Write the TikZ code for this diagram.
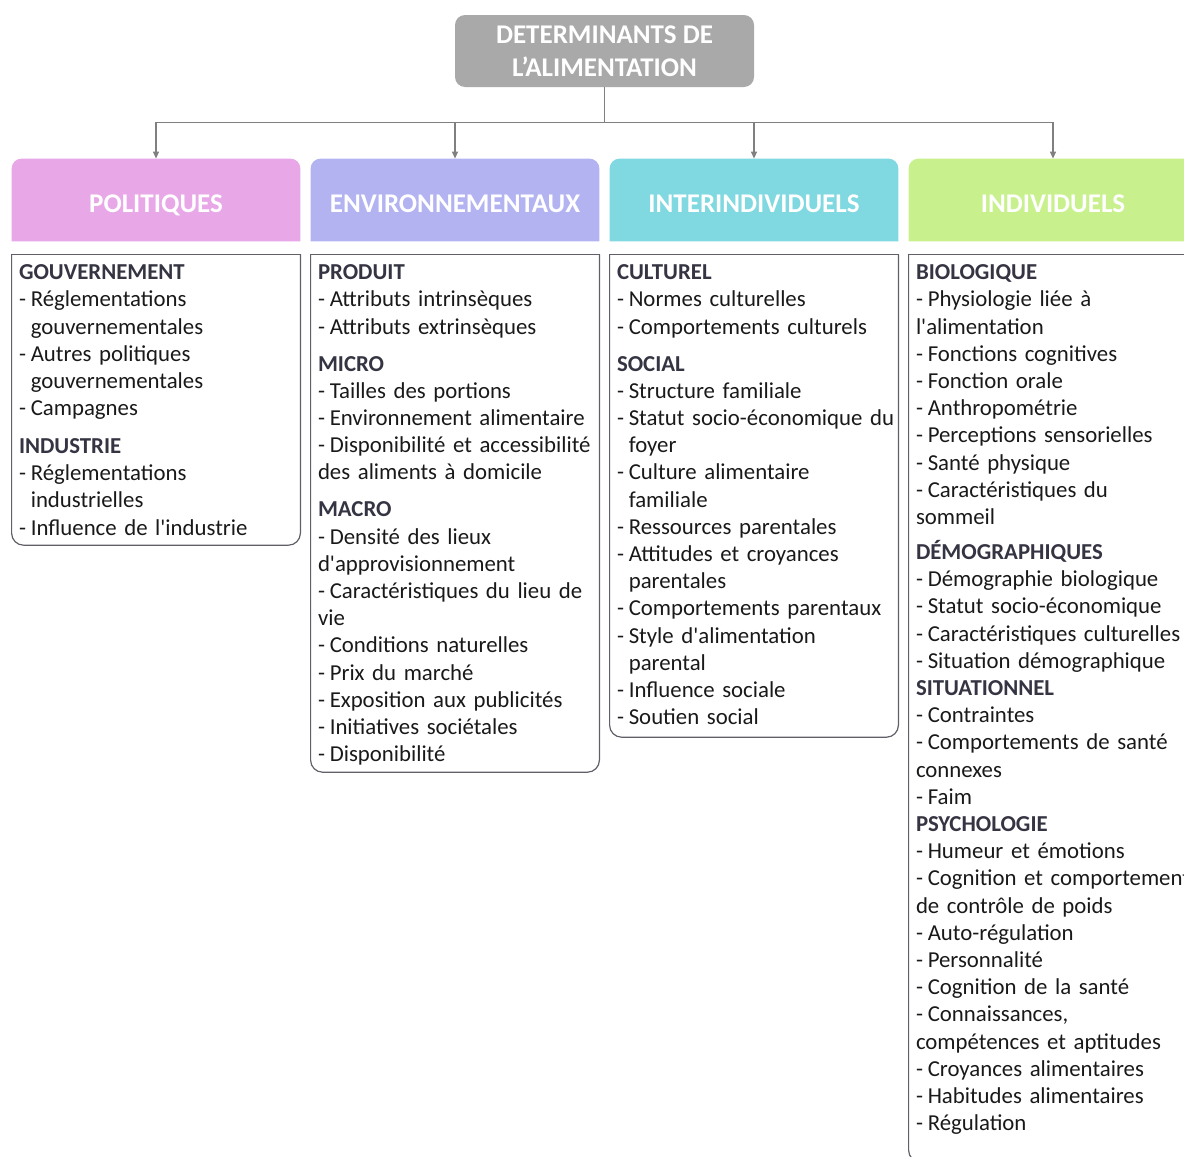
\documentclass[tikz,border=0pt]{standalone}
\usepackage{fontspec}
\usepackage{tikz}
\usetikzlibrary{calc,arrows.meta,backgrounds}
\newfontfamily\calib{Carlito}
\definecolor{colTitle}{RGB}{169,169,169}
\definecolor{colPol}{RGB}{232,168,232}
\definecolor{colEnv}{RGB}{179,179,242}
\definecolor{colInter}{RGB}{128,216,224}
\definecolor{colIndiv}{RGB}{200,240,140}
\definecolor{colHd}{RGB}{52,52,66}
\definecolor{colLine}{RGB}{96,96,104}
\newcommand{\hd}[1]{{\bfseries\color{colHd}#1}}
\newcommand{\dsh}{-\kern-1.4pt\relax\ }
\newcommand{\ind}{\hphantom{\dsh}}

\begin{document}
\begin{tikzpicture}[
x=0.5pt, y=-0.5pt,
T/.style={rectangle, rounded corners=5pt, fill=colTitle, text=white,
font=\calib\bfseries\fontsize{13.5}{16.5}\selectfont, align=center,
minimum width=149.5pt, minimum height=36pt, inner sep=0pt},
H/.style={rectangle, text=white, font=\calib\bfseries\fontsize{13.5}{16}\selectfont,
minimum width=144pt, minimum height=41pt, text height=12.2pt, text depth=0pt, inner sep=0pt},
Box/.style={rectangle, minimum width=144pt, inner sep=0pt, anchor=north},
Txt/.style={anchor=base west, text width=160pt, align=left, inner sep=0pt,
text=black!90, font=\calib\fontsize{11.4}{13.6}\selectfont},
Frame/.style={draw=colLine, line width=0.6pt},
Conn/.style={draw=gray, line width=0.6pt, -{Triangle[length=3.5pt,width=3pt]}},
]
	\useasboundingbox (0,0) rectangle (1184,1157);
	\clip (0,0) rectangle (1184,1157);

	\node[
	T,
	] (DET)
	at (604.5,51)
	{DETERMINANTS DE\\L’ALIMENTATION};

	\node[
	H,
	] (POL)
	at ($ (DET) + (-448.5,149) $)
	{POLITIQUES};
	\node[
	H,
	] (ENV)
	at ($ (POL) + (299,0) $)
	{ENVIRONNEMENTAUX};
	\node[
	H,
	] (INTER)
	at ($ (ENV) + (299,0) $)
	{INTERINDIVIDUELS};
	\node[
	H,
	] (INDIV)
	at ($ (INTER) + (299,0) $)
	{INDIVIDUELS};

	\begin{scope}[on background layer]
	\fill[colPol, rounded corners=5pt] (POL.south west) -- (POL.north west) -- (POL.north east) -- (POL.south east);
	\fill[colEnv, rounded corners=5pt] (ENV.south west) -- (ENV.north west) -- (ENV.north east) -- (ENV.south east);
	\fill[colInter, rounded corners=5pt] (INTER.south west) -- (INTER.north west) -- (INTER.north east) -- (INTER.south east);
	\fill[colIndiv, rounded corners=5pt] (INDIV.south west) -- (INDIV.north west) -- (INDIV.north east) -- (INDIV.south east);
	\end{scope}

	% connectors
	\coordinate (bus) at ($ (DET.south) + (0,35) $);
	\draw[draw=gray, line width=0.6pt] (DET.south) -- (bus);
	\draw[Conn] (bus) -| (POL.north);
	\draw[Conn] (bus) -| (ENV.north);
	\draw[Conn] (bus) -| (INTER.north);
	\draw[Conn] (bus) -| (INDIV.north);

	% frames
	\node[
	Box,
	minimum height=145pt,
	] (POLbox)
	at ($ (POL.south) + (0,13) $)
	{};
	\node[
	Box,
	minimum height=258.5pt,
	] (ENVbox)
	at ($ (ENV.south) + (0,13) $)
	{};
	\node[
	Box,
	minimum height=241pt,
	] (INTERbox)
	at ($ (INTER.south) + (0,13) $)
	{};
	\node[
	Box,
	minimum height=453.5pt,
	] (INDIVbox)
	at ($ (INDIV.south) + (0,13) $)
	{};
	\draw[Frame, rounded corners=6pt] (POLbox.north west) -- (POLbox.south west) -- (POLbox.south east) -- (POLbox.north east);
	\draw[Frame, line cap=rect] (POLbox.north west) -- (POLbox.north east);
	\draw[Frame, rounded corners=6pt] (ENVbox.north west) -- (ENVbox.south west) -- (ENVbox.south east) -- (ENVbox.north east);
	\draw[Frame, line cap=rect] (ENVbox.north west) -- (ENVbox.north east);
	\draw[Frame, rounded corners=6pt] (INTERbox.north west) -- (INTERbox.south west) -- (INTERbox.south east) -- (INTERbox.north east);
	\draw[Frame, line cap=rect] (INTERbox.north west) -- (INTERbox.north east);
	\draw[Frame, rounded corners=6pt] (INDIVbox.north west) -- (INDIVbox.south west) -- (INDIVbox.south east) -- (INDIVbox.north east);
	\draw[Frame, line cap=rect] (INDIVbox.north west) -- (INDIVbox.north east);

	\node[
	Txt,
	] (POLtxt)
	at ($ (POLbox.north west) + (7,25.3) $)
	{\hd{GOUVERNEMENT}\\
	\dsh Réglementations\\
	\ind gouvernementales\\
	\dsh Autres politiques\\
	\ind gouvernementales\\
	\dsh Campagnes\\[5.3pt]
	\hd{INDUSTRIE}\\
	\dsh Réglementations\\
	\ind industrielles\\
	\dsh Influence de l'industrie};
	\node[
	Txt,
	] (ENVtxt)
	at ($ (ENVbox.north west) + (7,25.3) $)
	{\hd{PRODUIT}\\
	\dsh Attributs intrinsèques\\
	\dsh Attributs extrinsèques\\[4.9pt]
	\hd{MICRO}\\
	\dsh Tailles des portions\\
	\dsh Environnement alimentaire\\
	\dsh Disponibilité et accessibilité\\
	des aliments à domicile\\[4.9pt]
	\hd{MACRO}\\
	\dsh Densité des lieux\\
	d'approvisionnement\\
	\dsh Caractéristiques du lieu de\\
	vie\\
	\dsh Conditions naturelles\\
	\dsh Prix du marché\\
	\dsh Exposition aux publicités\\
	\dsh Initiatives sociétales\\
	\dsh Disponibilité};
	\node[
	Txt,
	] (INTERtxt)
	at ($ (INTERbox.north west) + (7,25.3) $)
	{\hd{CULTUREL}\\
	\dsh Normes culturelles\\
	\dsh Comportements culturels\\[4.9pt]
	\hd{SOCIAL}\\
	\dsh Structure familiale\\
	\dsh Statut socio-économique du\\
	\ind foyer\\
	\dsh Culture alimentaire\\
	\ind familiale\\
	\dsh Ressources parentales\\
	\dsh Attitudes et croyances\\
	\ind parentales\\
	\dsh Comportements parentaux\\
	\dsh Style d'alimentation\\
	\ind parental\\
	\dsh Influence sociale\\
	\dsh Soutien social};
	\node[
	Txt,
	] (INDIVtxt)
	at ($ (INDIVbox.north west) + (7,25.3) $)
	{\hd{BIOLOGIQUE}\\
	\dsh Physiologie liée à\\
	l'alimentation\\
	\dsh Fonctions cognitives\\
	\dsh Fonction orale\\
	\dsh Anthropométrie\\
	\dsh Perceptions sensorielles\\
	\dsh Santé physique\\
	\dsh Caractéristiques du\\
	sommeil\\[3.9pt]
	\hd{DÉMOGRAPHIQUES}\\
	\dsh Démographie biologique\\
	\dsh Statut socio-économique\\
	\dsh Caractéristiques culturelles\\
	\dsh Situation démographique\\
	\hd{SITUATIONNEL}\\
	\dsh Contraintes\\
	\dsh Comportements de santé\\
	connexes\\
	\dsh Faim\\
	\hd{PSYCHOLOGIE}\\
	\dsh Humeur et émotions\\
	\dsh Cognition et comportements\\
	de contrôle de poids\\
	\dsh Auto-régulation\\
	\dsh Personnalité\\
	\dsh Cognition de la santé\\
	\dsh Connaissances,\\
	compétences et aptitudes\\
	\dsh Croyances alimentaires\\
	\dsh Habitudes alimentaires\\
	\dsh Régulation};
\end{tikzpicture}
\end{document}
